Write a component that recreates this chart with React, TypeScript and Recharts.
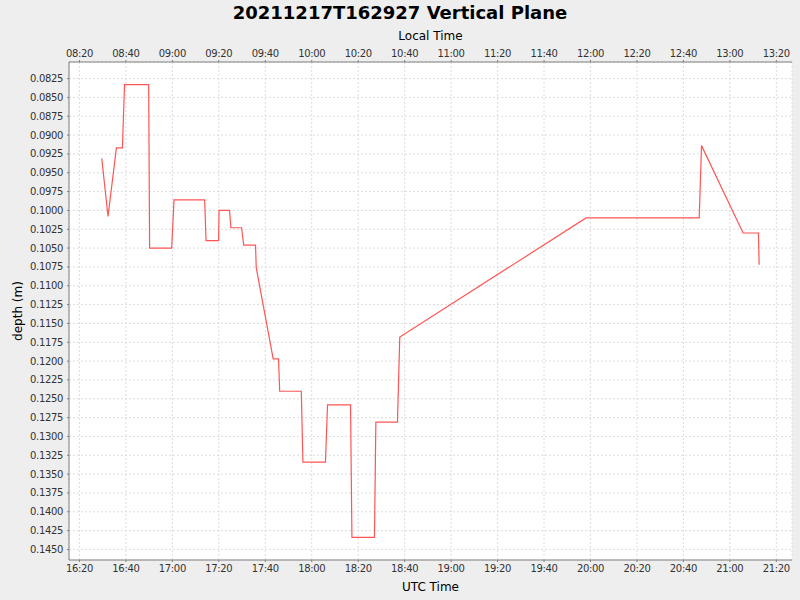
import { CartesianGrid, Label, Line, LineChart, XAxis, YAxis } from "recharts";

// UTC sample times (hh:mm:ss) and depth in metres
const utcTimes = [
  "16:29:36", "16:32:18", "16:35:54", "16:38:30", "16:39:24", "16:49:48",
  "16:50:12", "16:59:42", "17:00:42", "17:13:54", "17:14:30", "17:19:54",
  "17:20:06", "17:24:36", "17:25:12", "17:29:48", "17:30:42", "17:35:48",
  "17:36:06", "17:43:24", "17:45:42", "17:46:12", "17:55:30", "17:56:12",
  "18:05:54", "18:06:48", "18:16:42", "18:17:18", "18:27:00", "18:27:36",
  "18:36:54", "18:37:54", "19:58:06", "20:46:48", "20:47:48", "21:05:42",
  "21:12:18", "21:12:36",
];
const depths = [
  0.0931, 0.1008, 0.0917, 0.0917, 0.0833, 0.0833,
  0.105, 0.105, 0.0986, 0.0986, 0.104, 0.104,
  0.1, 0.1, 0.1023, 0.1023, 0.1046, 0.1046,
  0.1076, 0.1197, 0.1197, 0.124, 0.124, 0.1334,
  0.1334, 0.1258, 0.1258, 0.1434, 0.1434, 0.1281,
  0.1281, 0.1168, 0.101, 0.101, 0.0914, 0.103,
  0.103, 0.1072,
];

// tick positions, minutes after midnight UTC (16:20 .. 21:20)
const timeTicks = [980, 1000, 1020, 1040, 1060, 1080, 1100, 1120, 1140, 1160, 1180, 1200, 1220, 1240, 1260, 1280];
const depthTicks = [
  0.0825, 0.085, 0.0875, 0.09, 0.0925, 0.095, 0.0975, 0.1, 0.1025, 0.105,
  0.1075, 0.11, 0.1125, 0.115, 0.1175, 0.12, 0.1225, 0.125, 0.1275, 0.13,
  0.1325, 0.135, 0.1375, 0.14, 0.1425, 0.145,
];
const localOffsetMin = -480;

const toMinutes = (s: string) => {
  const [h, m, sec] = s.split(":").map(Number);
  return h * 60 + m + sec / 60;
};
const hhmm = (mins: number) => {
  const v = ((mins % 1440) + 1440) % 1440;
  const h = Math.floor(v / 60);
  const m = Math.round(v % 60);
  return `${String(h).padStart(2, "0")}:${String(m).padStart(2, "0")}`;
};

const data = utcTimes.map((t, i) => ({ t: toMinutes(t), d: depths[i] }));

const FONT = "'DejaVu Sans', sans-serif";
const tickStyle = { fontSize: 10, fill: "#333", fontFamily: FONT, letterSpacing: -0.35 };
const xDomain: [number, number] = [975.5, 1286.75];
const yDomain: [number, number] = [0.0803, 0.1464];

export default function App() {
  return (
    <div
      style={{
        position: "absolute",
        left: 0,
        top: 0,
        width: 800,
        height: 600,
        background: "#eeeeee",
        fontFamily: FONT,
      }}
    >
      <div
        style={{
          position: "absolute",
          top: 2,
          left: 0,
          width: 800,
          textAlign: "center",
          fontSize: 18,
          lineHeight: "21px",
          fontWeight: "bold",
          color: "#000",
        }}
      >
        20211217T162927 Vertical Plane
      </div>
      <LineChart width={800} height={600} data={data} margin={{ top: 22, right: 8, bottom: 0, left: 8 }}>
        <CartesianGrid
          xAxisId="utc"
          yAxisId="depth"
          stroke="#dcdcdc"
          strokeDasharray="2 2"
          fill="#ffffff"
        />
        <XAxis
          xAxisId="utc"
          type="number"
          dataKey="t"
          domain={xDomain}
          allowDataOverflow
          ticks={timeTicks}
          tickFormatter={hhmm}
          tick={tickStyle}
          tickSize={2}
          tickMargin={3}
          height={40}
          stroke="#808080"
        >
          <Label value="UTC Time" position="insideBottom" offset={9} style={{ fontSize: 12, fill: "#000", fontFamily: FONT }} />
        </XAxis>
        <XAxis
          xAxisId="local"
          orientation="top"
          type="number"
          dataKey="t"
          domain={xDomain}
          allowDataOverflow
          ticks={timeTicks}
          tickFormatter={(v: number) => hhmm(v + localOffsetMin)}
          tick={tickStyle}
          tickSize={2}
          tickMargin={3}
          height={40}
          stroke="#808080"
        >
          <Label value="Local Time" position="insideTop" offset={9} style={{ fontSize: 12, fill: "#000", fontFamily: FONT }} />
        </XAxis>
        <YAxis
          yAxisId="depth"
          type="number"
          domain={yDomain}
          allowDataOverflow
          reversed
          ticks={depthTicks}
          tickFormatter={(v: number) => v.toFixed(4)}
          tick={tickStyle}
          tickSize={2}
          tickMargin={4}
          width={61}
          stroke="#808080"
          interval={0}
        >
          <Label
            value="depth (m)"
            angle={-90}
            position="insideLeft"
            offset={9.5}
            style={{ fontSize: 12, fill: "#000", fontFamily: FONT, textAnchor: "middle" }}
          />
        </YAxis>
        <YAxis
          yAxisId="edge"
          orientation="right"
          type="number"
          domain={[0, 1]}
          width={0}
          tick={false}
          tickLine={false}
          stroke="#808080"
        />
        <Line
          xAxisId="utc"
          yAxisId="depth"
          type="linear"
          dataKey="d"
          stroke="#ff5555"
          strokeWidth={1.2}
          dot={false}
          activeDot={false}
          isAnimationActive={false}
        />
      </LineChart>
    </div>
  );
}
